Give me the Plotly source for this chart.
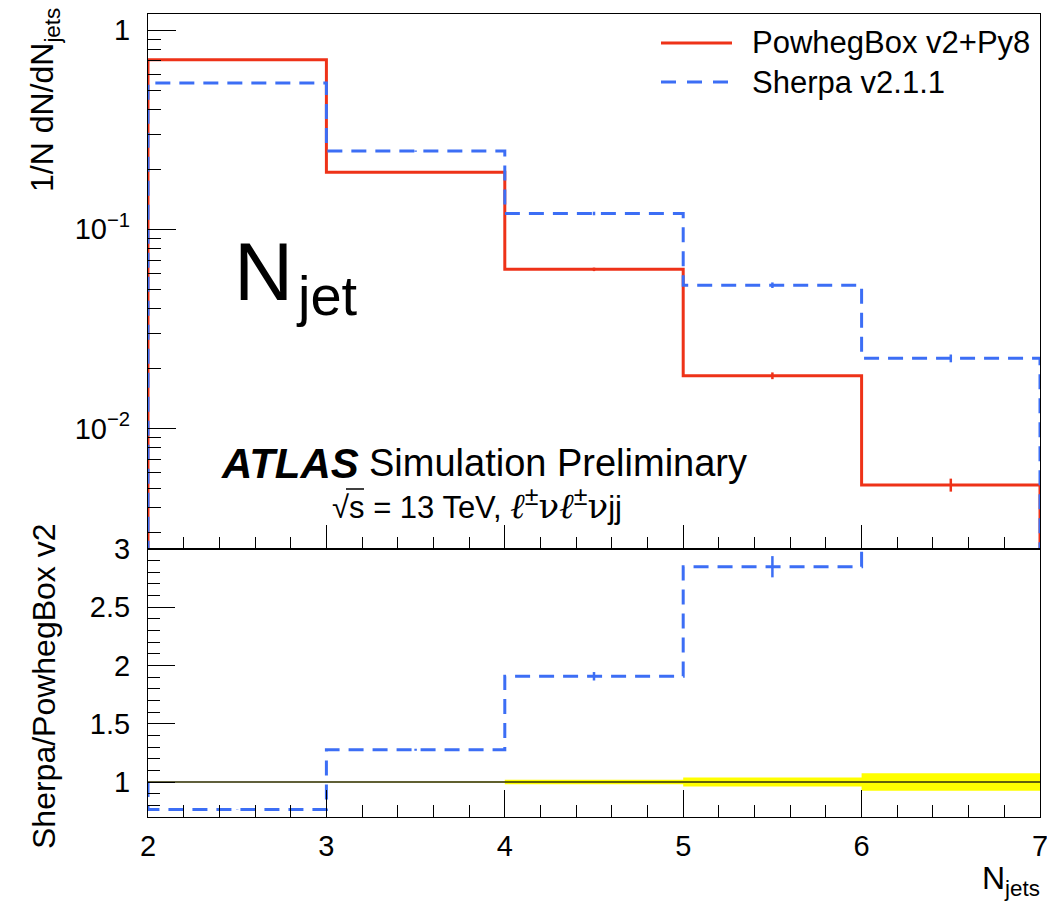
import plotly.graph_objects as go

# ---- data -------------------------------------------------------------
bin_edges = [2, 3, 4, 5, 6, 7]
powheg = [0.710, 0.1934, 0.0629, 0.0184, 0.00521]      # PowhegBox v2+Py8
sherpa = [0.542, 0.247, 0.120, 0.0524, 0.0225]         # Sherpa v2.1.1
powheg_relerr = [0.002, 0.004, 0.020, 0.039, 0.075]
sherpa_relerr = [0.002, 0.007, 0.019, 0.032, 0.045]

upper_ticks = [0.01, 0.1, 1]
upper_ticktext = ["10<sup>\u22122</sup>", "10<sup>\u22121</sup>", "1"]
lower_ticks = [1, 1.5, 2, 2.5, 3]
lower_ticktext = ["1", "1.5", "2", "2.5", "3"]
x_ticks = [2, 3, 4, 5, 6, 7]

# ---- styling ------------------------------------------------------------
W, H = 1047, 905
RED = "#ee3218"
BLUE = "#3c6ef5"
FONT = "Liberation Sans, Arial, Helvetica, sans-serif"
TXT = 29

def px(x):
    return x / W

def py(y):
    return 1 - y / H

centers = [(a + b) / 2 for a, b in zip(bin_edges[:-1], bin_edges[1:])]
ratio = [s / p for s, p in zip(sherpa, powheg)]
ratio_err = [r * e for r, e in zip(ratio, sherpa_relerr)]
unity = [p / p for p in powheg]


def outline(vals, base, drop_end=True):
    xs = [bin_edges[0]] + bin_edges[:-1] + [bin_edges[-1]]
    ys = [base] + list(vals) + [vals[-1]]
    if drop_end:
        xs.append(bin_edges[-1])
        ys.append(base)
    return xs, ys


def band(center, rel):
    up_x, up_y, lo_x, lo_y = [], [], [], []
    for i in range(len(center)):
        up_x += [bin_edges[i], bin_edges[i + 1]]
        up_y += [center[i] * (1 + rel[i])] * 2
        lo_x += [bin_edges[i], bin_edges[i + 1]]
        lo_y += [center[i] * (1 - rel[i])] * 2
    return up_x + lo_x[::-1] + [up_x[0]], up_y + lo_y[::-1] + [up_y[0]]


fig = go.Figure()

# upper panel: normalised distributions
LOG_BASE = 1e-3
for vals, rel, col, dash in [(powheg, powheg_relerr, RED, "solid"),
                             (sherpa, sherpa_relerr, BLUE, "15px,9px")]:
    xs, ys = outline(vals, LOG_BASE)
    fig.add_trace(go.Scatter(x=xs, y=ys, mode="lines", line_shape="hv",
                             line=dict(color=col, width=3, dash=dash),
                             xaxis="x", yaxis="y", showlegend=False,
                             hoverinfo="skip"))
    fig.add_trace(go.Scatter(x=centers, y=vals, mode="markers",
                             marker=dict(size=1, color=col, opacity=0),
                             error_y=dict(type="data",
                                          array=[v * e for v, e in zip(vals, rel)],
                                          color=col, thickness=2.5, width=0),
                             xaxis="x", yaxis="y", showlegend=False,
                             hoverinfo="skip"))

# lower panel: statistical band of the reference, unity line, ratio
bx, by = band(unity, powheg_relerr)
fig.add_trace(go.Scatter(x=bx, y=by, mode="lines", fill="toself",
                         fillcolor="#ffff00", line=dict(width=0),
                         xaxis="x2", yaxis="y2", showlegend=False,
                         hoverinfo="skip"))
ux, uy = outline(unity, unity[0], drop_end=False)
fig.add_trace(go.Scatter(x=ux, y=uy, mode="lines", line_shape="hv",
                         line=dict(color="#2b2b10", width=1.5),
                         xaxis="x2", yaxis="y2", showlegend=False,
                         hoverinfo="skip"))
rx, ry = outline(ratio, unity[0], drop_end=False)
fig.add_trace(go.Scatter(x=rx, y=ry, mode="lines", line_shape="hv",
                         line=dict(color=BLUE, width=3, dash="15px,9px"),
                         xaxis="x2", yaxis="y2", showlegend=False,
                         hoverinfo="skip"))
fig.add_trace(go.Scatter(x=centers, y=ratio, mode="markers",
                         marker=dict(size=1, color=BLUE, opacity=0),
                         error_y=dict(type="data", array=ratio_err,
                                      color=BLUE, thickness=2.5, width=0),
                         xaxis="x2", yaxis="y2", showlegend=False,
                         hoverinfo="skip"))

# ---- axes ------------------------------------------------------------------
dom_x = [px(148), px(1040)]
dom_up = [py(549), py(13.6)]
dom_lo = [py(817), py(549)]

common = dict(showline=True, linecolor="black", linewidth=1.2, mirror=True,
              ticks="inside", tickcolor="black", tickwidth=1.2,
              showgrid=False, zeroline=False, automargin=False,
              ticklabeloverflow="allow",
              tickfont=dict(family=FONT, size=TXT, color="black"))

minor_log = []
for dec in [0.001, 0.01, 0.1, 1]:
    for k in range(2, 10):
        minor_log.append(dec * k)

fig.update_layout(
    width=W, height=H,
    margin=dict(l=0, r=0, t=0, b=0, pad=0, autoexpand=False),
    paper_bgcolor="white", plot_bgcolor="white",
    xaxis=dict(domain=dom_x, anchor="y", range=[2, 7], tickvals=x_ticks,
               showticklabels=False, ticklen=24,
               minor=dict(ticks="inside", ticklen=12, dtick=0.2, tick0=2,
                          tickcolor="black", showgrid=False),
               **common),
    yaxis=dict(domain=dom_up, anchor="x", type="log", range=[-2.605, 0.0825],
               tickvals=upper_ticks, ticktext=upper_ticktext, ticklen=28,
               ticklabelstandoff=11,
               minor=dict(ticks="inside", ticklen=13, tickvals=minor_log,
                          tickcolor="black", showgrid=False),
               **common),
    xaxis2=dict(domain=dom_x, anchor="y2", range=[2, 7], tickvals=x_ticks,
                ticktext=[str(t) for t in x_ticks], ticklen=27,
                ticklabelstandoff=3,
                minor=dict(ticks="inside", ticklen=12, dtick=0.2, tick0=2,
                           tickcolor="black", showgrid=False),
                **common),
    yaxis2=dict(domain=dom_lo, anchor="x2", range=[0.7, 3.0],
                tickvals=lower_ticks, ticktext=lower_ticktext, ticklen=27,
                ticklabelstandoff=11,
                minor=dict(ticks="inside", ticklen=12, dtick=0.1, tick0=0,
                           tickcolor="black", showgrid=False),
                **common),
)

# ---- text -------------------------------------------------------------------
def note(text, x, y, size=TXT, xanchor="left", yanchor="middle", angle=0,
         color="black"):
    fig.add_annotation(text=text, x=px(x), y=py(y), xref="paper", yref="paper",
                       xanchor=xanchor, yanchor=yanchor, textangle=angle,
                       showarrow=False, font=dict(family=FONT, size=size,
                                                  color=color))

TITLE = 32
note("1/N dN/dN<sub>jets</sub>", 44, 6, size=TITLE, xanchor="center",
     yanchor="top", angle=-90)
note("Sherpa/PowhegBox v2", 44, 686, size=TITLE, xanchor="center",
     yanchor="middle", angle=-90)
note("N<sub>jets</sub>", 1042, 880, size=TITLE, xanchor="right")

note("N", 232, 272, size=82)
note("jet", 294, 296, size=56)

note("<b><i>ATLAS</i></b>", 219, 463, size=42)
note("Simulation Preliminary", 367, 463, size=38)

ELL = "<span style='font-family:DejaVu Serif;font-style:italic;font-size:35px'>\u2113</span>"
PM = "<sup><span style='font-size:25px'>\u00b1</span></sup>"
NU = "<span style='font-family:DejaVu Serif;font-size:34px'>\u03bd</span>"
note("\u221as = 13 TeV, " + ELL + PM + NU + ELL + PM + NU + "jj",
     330, 504, size=31)
# bar of the square root over "s"
fig.add_shape(type="line", xref="paper", yref="paper",
              x0=px(346), x1=px(364), y0=py(489), y1=py(489),
              line=dict(color="black", width=1.5))

# legend
fig.add_shape(type="line", xref="paper", yref="paper",
              x0=px(661), x1=px(732), y0=py(43), y1=py(43),
              line=dict(color=RED, width=3))
fig.add_shape(type="line", xref="paper", yref="paper",
              x0=px(661), x1=px(732), y0=py(82), y1=py(82),
              line=dict(color=BLUE, width=3, dash="15px,11px"))
note("PowhegBox v2+Py8", 750, 43, size=31)
note("Sherpa v2.1.1", 750, 82, size=31)

fig.write_html("out.html")
